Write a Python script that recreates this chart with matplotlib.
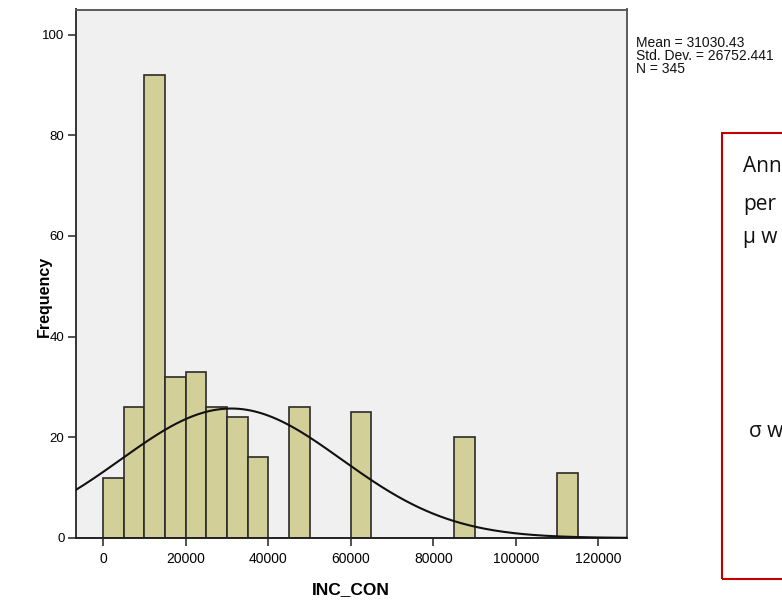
import numpy as np
import matplotlib
matplotlib.use("Agg")
import matplotlib.pyplot as plt
from matplotlib.patches import Rectangle

# histogram counts (bins are 5000 wide)
bin_starts = [0, 5000, 10000, 15000, 20000, 25000, 30000, 35000, 45000, 60000, 85000, 110000]
counts = [12, 26, 92, 32, 33, 26, 24, 16, 26, 25, 20, 13]
bin_width = 5000

# summary stats shown next to the plot
mean = 31030.43
std_dev = 26752.441
n_obs = 345

x_ticks = [0, 20000, 40000, 60000, 80000, 100000, 120000]
y_ticks = [0, 20, 40, 60, 80, 100]

note_lines = ["Ann", "per", "\u03bc w", "\u03c3 w"]

sans = ["Liberation Sans", "DejaVu Sans"]

fig = plt.figure(figsize=(7.82, 6.0), dpi=100)
ax = fig.add_axes([75.5 / 782, 62 / 600, 551 / 782, 528.5 / 600])
ax.set_facecolor("#f0f0f0")

ax.bar(bin_starts, counts, width=bin_width, align="edge",
       color="#d3cf98", edgecolor="#2b2b2b", linewidth=1.2, zorder=2)

# normal curve scaled to counts
xs = np.linspace(-6700, 126800, 400)
ys = n_obs * bin_width * np.exp(-0.5 * ((xs - mean) / std_dev) ** 2) / (std_dev * np.sqrt(2 * np.pi))
ax.plot(xs, ys, color="#111111", lw=1.5, zorder=3)

ax.set_xlim(-6700, 126800)
ax.set_ylim(0, 105)
ax.set_xticks(x_ticks)
ax.set_yticks(y_ticks)
ax.set_xticklabels([str(t) for t in x_ticks], family=sans, fontsize=10)
ax.set_yticklabels([str(t) for t in y_ticks], family=sans, fontsize=9.5)
ax.tick_params(length=6, width=1.2, color="#333333", pad=2)
ax.tick_params(axis="x", pad=4)

for s in ax.spines.values():
    s.set_color("#5a5a5a")
    s.set_linewidth(1.4)
ax.spines["bottom"].set_color("#222222")
ax.spines["left"].set_color("#333333")

ax.set_xlabel("INC_CON", family=sans, fontsize=12.5, fontweight="bold", labelpad=12)
ax.set_ylabel("Frequency", family=sans, fontsize=11.5, fontweight="bold")
ax.yaxis.set_label_coords(-0.043, 0.458)

stats = "Mean = {:.2f}\nStd. Dev. = {:.3f}\nN = {}".format(mean, std_dev, n_obs)
fig.text(636 / 782, 1 - 36 / 600, stats, family=sans, fontsize=10,
         va="top", ha="left", linespacing=0.9, color="#111111")

# red annotation box, running off the right edge
fig.add_artist(Rectangle((722 / 782, 1 - 579 / 600), 0.2, (579 - 133) / 600,
                         transform=fig.transFigure, fill=False,
                         edgecolor="#c00000", lw=1.5))
note_y = [172, 210, 243, 437]
note_x = [743, 743, 743, 749]
for txt, px, py in zip(note_lines, note_x, note_y):
    fig.text(px / 782, 1 - py / 600, txt, family=["Open Sans", "DejaVu Sans"],
             fontsize=15, va="baseline", ha="left", color="#111111")

fig.savefig("out.png", dpi=100)
